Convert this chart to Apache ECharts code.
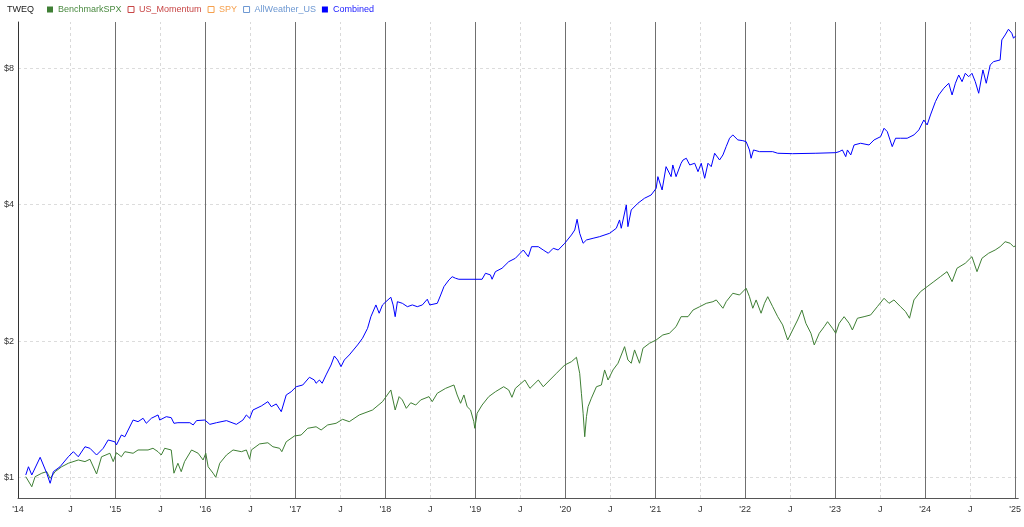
<!DOCTYPE html>
<html><head><meta charset="utf-8">
<script src="https://cdn.jsdelivr.net/npm/echarts@6/dist/echarts.min.js"></script>
<style>html,body{margin:0;padding:0;background:#fff}#c{width:1024px;height:527px}</style>
</head><body><div id="c"></div>
<script>
const titleText = 'TWEQ';
const seriesNames = ['BenchmarkSPX','US_Momentum','SPY','AllWeather_US','Combined'];
const seriesColors = ['#3f7f35','#c84646','#f5a04e','#6d98d2','#0000ff'];
const legendTextColors = ['#4a8a40','#c84646','#f5a04e','#6d98d2','#1a1aff'];
const legendFilled = [true,false,false,false,true];
const yTickValues = [1,2,4,8];
const yearTicks = [2015,2016,2017,2018,2019,2020,2021,2022,2023,2024,2025];
const julyTicks = [2014.5,2015.5,2016.5,2017.5,2018.5,2019.5,2020.5,2021.5,2022.5,2023.5,2024.5];

const spxYears = [
2014.003,2014.070,2014.107,2014.181,2014.236,2014.274,2014.329,2014.402,2014.476,2014.587,
2014.661,2014.716,2014.790,2014.845,2014.938,2014.975,2015.011,2015.066,2015.104,2015.196,
2015.251,2015.362,2015.417,2015.473,2015.509,2015.547,2015.620,2015.639,2015.650,2015.694,
2015.731,2015.768,2015.846,2015.919,2015.974,2016.004,2016.030,2016.085,2016.115,2016.159,
2016.234,2016.307,2016.400,2016.455,2016.492,2016.510,2016.602,2016.694,2016.750,2016.824,
2016.849,2016.898,2016.990,2017.064,2017.137,2017.230,2017.286,2017.359,2017.452,2017.525,
2017.599,2017.710,2017.857,2017.968,2018.061,2018.109,2018.153,2018.189,2018.233,2018.282,
2018.338,2018.393,2018.485,2018.521,2018.577,2018.670,2018.762,2018.798,2018.836,2018.873,
2018.909,2018.947,2018.983,2018.994,2019.020,2019.075,2019.149,2019.223,2019.315,2019.371,
2019.407,2019.445,2019.551,2019.607,2019.700,2019.755,2019.828,2019.902,2019.994,2020.068,
2020.124,2020.160,2020.179,2020.198,2020.216,2020.235,2020.253,2020.290,2020.346,2020.401,
2020.437,2020.475,2020.530,2020.586,2020.659,2020.696,2020.733,2020.770,2020.825,2020.863,
2020.936,2021.010,2021.084,2021.157,2021.231,2021.287,2021.309,2021.364,2021.420,2021.494,
2021.567,2021.641,2021.678,2021.752,2021.788,2021.862,2021.937,2022.010,2022.047,2022.084,
2022.121,2022.176,2022.214,2022.250,2022.305,2022.361,2022.416,2022.472,2022.527,2022.582,
2022.630,2022.674,2022.730,2022.767,2022.823,2022.878,2022.915,2022.970,2023.006,2023.044,
2023.099,2023.155,2023.191,2023.247,2023.321,2023.394,2023.468,2023.543,2023.598,2023.653,
2023.726,2023.782,2023.826,2023.875,2023.948,2024.022,2024.096,2024.169,2024.243,2024.299,
2024.354,2024.446,2024.520,2024.576,2024.631,2024.705,2024.778,2024.833,2024.889,2024.944,
2024.982,2025.005];
const spxValues = [
1.004,0.954,1.004,1.022,1.030,0.996,1.030,1.056,1.075,1.093,
1.084,1.097,1.018,1.111,1.131,1.084,1.134,1.111,1.140,1.131,
1.150,1.150,1.160,1.140,1.121,1.160,1.150,1.140,1.022,1.075,
1.030,1.084,1.150,1.131,1.093,1.131,1.056,1.022,1.001,1.075,
1.121,1.150,1.140,1.150,1.097,1.150,1.186,1.193,1.169,1.160,
1.140,1.199,1.235,1.241,1.284,1.294,1.273,1.306,1.317,1.344,
1.328,1.374,1.409,1.470,1.560,1.409,1.508,1.483,1.421,1.462,
1.445,1.483,1.508,1.470,1.534,1.573,1.600,1.521,1.458,1.521,
1.433,1.409,1.328,1.284,1.386,1.445,1.508,1.546,1.586,1.560,
1.503,1.573,1.641,1.573,1.641,1.586,1.641,1.698,1.771,1.801,
1.842,1.698,1.534,1.386,1.230,1.362,1.433,1.496,1.586,1.600,
1.727,1.641,1.727,1.787,1.944,1.817,1.787,1.912,1.787,1.928,
1.978,2.011,2.063,2.081,2.152,2.264,2.284,2.264,2.342,2.382,
2.423,2.443,2.465,2.363,2.443,2.550,2.528,2.616,2.506,2.363,
2.465,2.304,2.423,2.506,2.382,2.264,2.171,2.011,2.116,2.226,
2.342,2.189,2.081,1.961,2.081,2.152,2.207,2.134,2.081,2.189,
2.264,2.189,2.116,2.246,2.264,2.284,2.382,2.486,2.423,2.465,
2.382,2.323,2.246,2.465,2.571,2.637,2.705,2.774,2.846,2.705,
2.896,2.970,3.071,2.846,3.046,3.125,3.177,3.231,3.314,3.288,
3.231,3.243];

const combYears = [
2014.003,2014.033,2014.070,2014.163,2014.236,2014.274,2014.310,2014.384,2014.476,2014.532,
2014.587,2014.661,2014.716,2014.790,2014.864,2014.919,2014.993,2015.011,2015.066,2015.104,
2015.196,2015.251,2015.307,2015.343,2015.399,2015.473,2015.492,2015.565,2015.620,2015.650,
2015.694,2015.827,2015.864,2015.901,2015.993,2016.049,2016.123,2016.234,2016.344,2016.417,
2016.455,2016.492,2016.528,2016.621,2016.694,2016.732,2016.787,2016.843,2016.898,2016.953,
2017.009,2017.082,2017.156,2017.211,2017.230,2017.267,2017.297,2017.341,2017.396,2017.433,
2017.469,2017.507,2017.544,2017.599,2017.691,2017.746,2017.802,2017.839,2017.895,2017.931,
2017.968,2018.006,2018.061,2018.086,2018.109,2018.134,2018.189,2018.245,2018.300,2018.355,
2018.411,2018.466,2018.493,2018.577,2018.615,2018.651,2018.706,2018.743,2018.780,2018.817,
2019.075,2019.113,2019.168,2019.186,2019.223,2019.297,2019.371,2019.445,2019.533,2019.589,
2019.625,2019.700,2019.755,2019.811,2019.866,2019.921,2019.994,2020.068,2020.105,2020.131,
2020.160,2020.198,2020.235,2020.309,2020.382,2020.493,2020.567,2020.603,2020.622,2020.678,
2020.696,2020.733,2020.807,2020.880,2020.954,2021.010,2021.029,2021.076,2021.120,2021.176,
2021.195,2021.231,2021.287,2021.309,2021.345,2021.383,2021.438,2021.475,2021.511,2021.549,
2021.586,2021.622,2021.660,2021.715,2021.752,2021.788,2021.826,2021.862,2021.918,2021.973,
2022.010,2022.047,2022.065,2022.092,2022.158,2022.305,2022.361,2022.527,2022.785,2023.006,
2023.044,2023.080,2023.117,2023.136,2023.173,2023.210,2023.283,2023.376,2023.432,2023.505,
2023.543,2023.579,2023.634,2023.671,2023.726,2023.800,2023.875,2023.930,2023.985,2024.022,
2024.059,2024.114,2024.151,2024.207,2024.262,2024.299,2024.336,2024.373,2024.410,2024.446,
2024.484,2024.520,2024.557,2024.595,2024.642,2024.679,2024.723,2024.761,2024.833,2024.852,
2024.889,2024.926,2024.963,2024.982,2025.005];
const combValues = [
1.013,1.056,1.013,1.108,1.022,0.971,1.030,1.056,1.111,1.140,
1.111,1.169,1.160,1.121,1.160,1.210,1.199,1.180,1.241,1.230,
1.339,1.328,1.351,1.317,1.351,1.374,1.339,1.362,1.355,1.317,
1.321,1.321,1.306,1.335,1.339,1.310,1.321,1.335,1.310,1.339,
1.374,1.351,1.409,1.438,1.470,1.433,1.453,1.397,1.521,1.546,
1.586,1.600,1.664,1.641,1.614,1.641,1.614,1.684,1.771,1.854,
1.817,1.756,1.817,1.864,1.961,2.029,2.134,2.264,2.403,2.304,
2.403,2.443,2.499,2.403,2.264,2.443,2.423,2.382,2.403,2.382,
2.403,2.474,2.403,2.423,2.528,2.637,2.728,2.774,2.752,2.738,
2.738,2.823,2.799,2.738,2.846,2.896,2.994,3.046,3.177,3.071,
3.231,3.231,3.177,3.125,3.205,3.177,3.288,3.429,3.517,3.714,
3.459,3.288,3.343,3.372,3.400,3.459,3.548,3.701,3.548,3.994,
3.577,3.894,4.029,4.132,4.202,4.347,4.612,4.310,4.852,4.612,
4.894,4.612,4.937,5.020,5.064,4.894,4.937,4.730,4.937,4.574,
4.937,4.852,5.194,5.020,5.150,5.372,5.606,5.701,5.558,5.538,
5.510,5.282,5.064,5.282,5.237,5.237,5.194,5.183,5.194,5.210,
5.237,5.282,5.105,5.282,5.150,5.418,5.465,5.418,5.558,5.652,
5.898,5.797,5.372,5.606,5.606,5.606,5.701,5.848,6.151,5.997,
6.310,6.751,6.985,7.227,7.413,6.985,7.413,7.731,7.473,7.798,
7.665,7.798,7.473,7.046,7.932,7.413,8.136,8.274,8.345,9.239,
9.476,9.755,9.559,9.318,9.427];

const FONT = '"Liberation Sans", Arial, sans-serif';
const zip = (xs, ys) => xs.map((x, i) => [x, ys[i]]);
const seriesData = {
  'BenchmarkSPX': zip(spxYears, spxValues),
  'US_Momentum': [],
  'SPY': [],
  'AllWeather_US': [],
  'Combined': zip(combYears, combValues)
};

const chart = echarts.init(document.getElementById('c'), null, {renderer: 'canvas'});

function xLabel(v) {
  const f = (v - 2014) * 12;
  const m = Math.round(f);
  if (Math.abs(f - m) > 0.01) return '';
  if (m === -1) return "'14";
  if (m <= 0) return '';
  if (m % 12 === 0) return "'" + String(2014 + m / 12).slice(2);
  if (m % 12 === 6) return 'J';
  return '';
}

const series = seriesNames.map((name, i) => ({
  name: name,
  type: 'line',
  data: seriesData[name],
  showSymbol: false,
  symbol: 'none',
  z: 2,
  lineStyle: {color: seriesColors[i], width: 1},
  itemStyle: {color: seriesColors[i]},
  emphasis: {disabled: true},
  animation: false
}));

series.unshift({
  name: '_grid',
  type: 'line',
  data: [],
  z: 1,
  silent: true,
  animation: false,
  markLine: {
    silent: true,
    symbol: 'none',
    z: 1,
    animation: false,
    label: {show: false},
    emphasis: {disabled: true},
    data: julyTicks.map(v => ({xAxis: v, lineStyle: {color: '#d9d9d9', width: 1, type: [3, 3]}}))
      .concat(yearTicks.map(v => ({xAxis: v, lineStyle: {color: '#707070', width: 1, type: 'solid'}})))
  }
});

chart.setOption({
  backgroundColor: '#fff',
  animation: false,
  title: {text: titleText, left: 7, top: 5, padding: 0,
    textStyle: {fontSize: 9, fontWeight: 'normal', color: '#222', fontFamily: FONT}},
  legend: {
    left: 47, top: 5, padding: 0, icon: 'rect', itemWidth: 6, itemHeight: 6, itemGap: 6,
    selectedMode: false,
    textStyle: {fontSize: 9, fontFamily: FONT},
    data: seriesNames.map((n, i) => ({
      name: n,
      itemStyle: legendFilled[i] ? {color: seriesColors[i], borderWidth: 0}
                                 : {color: '#fff', borderColor: seriesColors[i], borderWidth: 1},
      lineStyle: {width: 0},
      textStyle: {color: legendTextColors[i]}
    }))
  },
  grid: {left: 18, right: 2, top: 22, bottom: 29},
  xAxis: {
    type: 'value', min: 2013.9166666667, max: 2025.035, interval: 1 / 12,
    axisLine: {show: true, onZero: false, lineStyle: {color: '#555', width: 1}},
    axisTick: {show: false},
    splitLine: {show: false},
    axisLabel: {formatter: xLabel, color: '#333', fontSize: 9, fontFamily: FONT, margin: 7,
      showMinLabel: true, showMaxLabel: true}
  },
  yAxis: {
    type: 'log', logBase: 2, min: 0.901, max: 10.12,
    axisLine: {show: true, onZero: false, lineStyle: {color: '#333', width: 1}},
    axisTick: {show: false},
    axisLabel: {
      showMinLabel: false, showMaxLabel: false, margin: 4, color: '#333', fontSize: 9, fontFamily: FONT,
      formatter: v => { const r = Math.round(v); return (Math.abs(v - r) < 0.01 && yTickValues.includes(r)) ? '$' + r : ''; }
    },
    splitLine: {show: true, showMinLine: false, showMaxLine: false, lineStyle: {color: '#dcdcdc', width: 1, type: [3, 3]}}
  },
  series: series
});
</script></body></html>
